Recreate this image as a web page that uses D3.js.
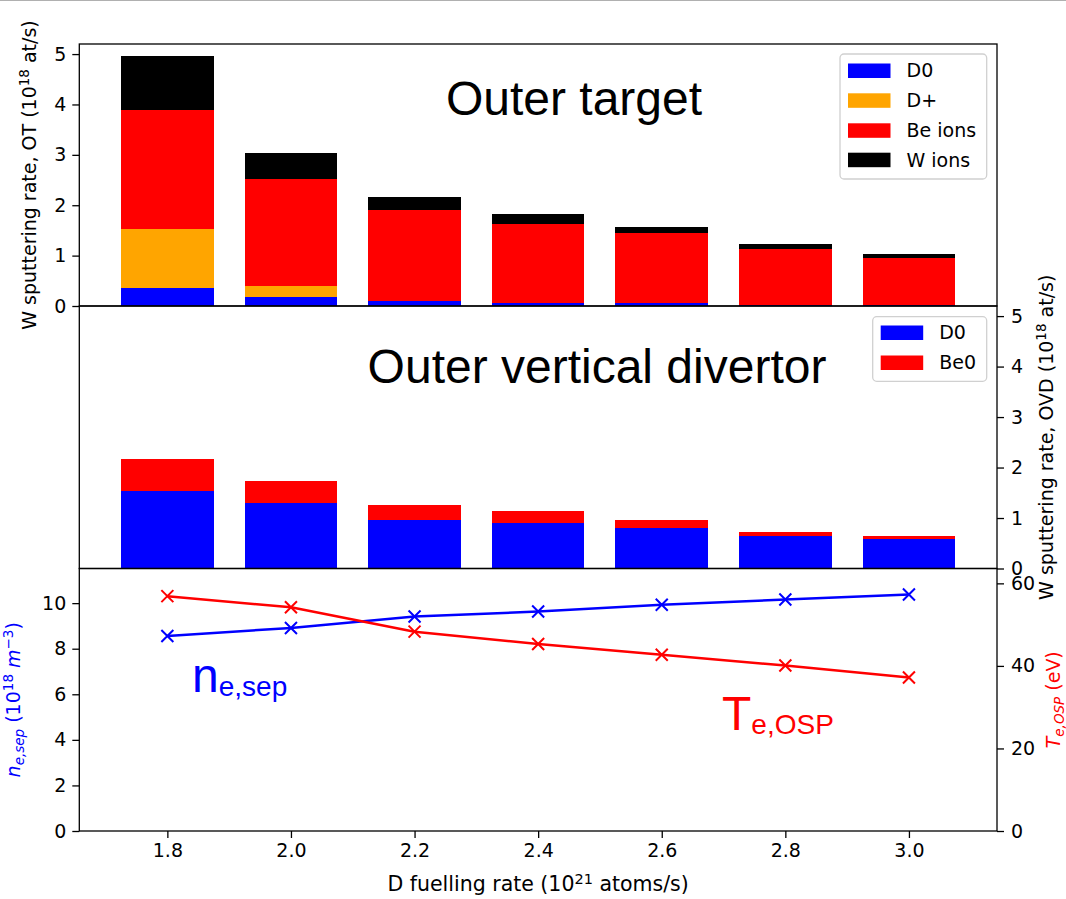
<!DOCTYPE html>
<html>
<head>
<meta charset="utf-8">
<script src="https://cdn.jsdelivr.net/npm/d3@7"></script>
<style>
  html, body { margin: 0; padding: 0; background: #fff; }
  svg { display: block; }
</style>
</head>
<body>
<svg id="chart" width="1066" height="899"></svg>
<script>
// ---------------- DATA ----------------
const fuel = [1.8, 2.0, 2.2, 2.4, 2.6, 2.8, 3.0];
// Outer target (OT) stacked components, 10^18 at/s
const otD0    = [0.36, 0.18, 0.10, 0.06, 0.05, 0.01, 0.01];
const otDplus = [1.17, 0.22, 0.00, 0.00, 0.00, 0.00, 0.00];
const otBeIons = [2.36, 2.12, 1.81, 1.57, 1.39, 1.12, 0.94];
const otWIons  = [1.07, 0.52, 0.26, 0.20, 0.13, 0.10, 0.08];
// Outer vertical divertor (OVD)
const ovdD0  = [1.53, 1.29, 0.96, 0.90, 0.80, 0.65, 0.58];
const ovdBe0 = [0.63, 0.44, 0.29, 0.23, 0.16, 0.07, 0.06];
// Plasma parameters
const neSep = [8.56, 8.91, 9.41, 9.63, 9.93, 10.16, 10.38];
const TeOSP = [56.9, 54.2, 48.3, 45.3, 42.7, 40.1, 37.2];
// ticks
const xTicks = [1.8, 2.0, 2.2, 2.4, 2.6, 2.8, 3.0];
const otTicks = [0, 1, 2, 3, 4, 5];
const ovdTicks = [0, 1, 2, 3, 4, 5];
const neTicks = [0, 2, 4, 6, 8, 10];
const teTicks = [0, 20, 40, 60];
const otLegend = ["D0", "D+", "Be ions", "W ions"];
const ovdLegend = ["D0", "Be0"];

// ---------------- LAYOUT ----------------
const L = 79.3, R = 997;
const topY0 = 44, topY1 = 306, midY1 = 568.5, botY1 = 831;
const barW = 0.15;
const cBlue = "#0000ff", cOrange = "#ffa500", cRed = "#ff0000", cBlack = "#000000";
const tickFont = "DejaVu Sans, sans-serif";
const bigFont = "Liberation Sans, Arial, sans-serif";

const svg = d3.select("#chart");
svg.append("rect").attr("width", 1066).attr("height", 899).attr("fill", "#fff");
svg.append("line").attr("x1", 0).attr("x2", 1066).attr("y1", 0.5).attr("y2", 0.5)
  .attr("stroke", "#b0b0b0").attr("stroke-width", 1);

const x = d3.scaleLinear().domain([1.6575, 3.1425]).range([L, R]);
const yTop = d3.scaleLinear().domain([0, 5.2]).range([topY1, topY0]);
const yMid = d3.scaleLinear().domain([0, 5.2]).range([midY1, topY1]);
const yNe = d3.scaleLinear().domain([0, 11.52]).range([botY1, midY1]);
const yTe = d3.scaleLinear().domain([0, 63.6]).range([botY1, midY1]);

// ---------- stacked bars helper ----------
function stackedBars(g, series, colors, yScale) {
  const keys = series.map((_, i) => "s" + i);
  const rows = fuel.map((f, j) => {
    const o = { f };
    series.forEach((s, i) => o["s" + i] = s[j]);
    return o;
  });
  const stacked = d3.stack().keys(keys)(rows);
  stacked.forEach((layer, i) => {
    g.append("g").attr("fill", colors[i])
      .selectAll("rect").data(layer.filter(d => d[1] - d[0] > 0)).join("rect")
      .attr("x", d => x(d.data.f - barW / 2))
      .attr("width", d => x(d.data.f + barW / 2) - x(d.data.f - barW / 2))
      .attr("y", d => yScale(d[1]))
      .attr("height", d => Math.max(0, yScale(d[0]) - yScale(d[1])))
      .attr("shape-rendering", "crispEdges");
  });
}

const gTop = svg.append("g");
stackedBars(gTop, [otD0, otDplus, otBeIons, otWIons], [cBlue, cOrange, cRed, cBlack], yTop);
const gMid = svg.append("g");
stackedBars(gMid, [ovdD0, ovdBe0], [cBlue, cRed], yMid);

// ---------- bottom lines ----------
const gBot = svg.append("g");
function lineSeries(vals, yScale, color) {
  const pts = fuel.map((f, i) => [x(f), yScale(vals[i])]);
  gBot.append("path").attr("d", d3.line()(pts))
    .attr("fill", "none").attr("stroke", color).attr("stroke-width", 2.5)
    .attr("stroke-linejoin", "round");
  const s = 6;
  gBot.append("g").selectAll("path").data(pts).join("path")
    .attr("d", p => `M${p[0]-s},${p[1]-s}L${p[0]+s},${p[1]+s}M${p[0]-s},${p[1]+s}L${p[0]+s},${p[1]-s}`)
    .attr("stroke", color).attr("stroke-width", 2).attr("fill", "none");
}
lineSeries(neSep, yNe, cBlue);
lineSeries(TeOSP, yTe, cRed);

// ---------- frames ----------
[[topY0, topY1], [topY1, midY1], [midY1, botY1]].forEach(([a, b]) => {
  svg.append("rect").attr("x", L).attr("y", a).attr("width", R - L).attr("height", b - a)
    .attr("fill", "none").attr("stroke", "#000").attr("stroke-width", 1.3);
});

// ---------- axes ----------
function styleAxis(g) {
  g.select(".domain").remove();
  g.selectAll(".tick line").attr("stroke", "#000").attr("stroke-width", 1.3);
  g.selectAll(".tick text").attr("font-family", tickFont).attr("font-size", 19).attr("fill", "#000");
}
svg.append("g").attr("transform", `translate(${L},0)`)
  .call(d3.axisLeft(yTop).tickValues(otTicks).tickFormat(d3.format("d")).tickSize(7).tickPadding(6))
  .call(styleAxis);
svg.append("g").attr("transform", `translate(${R},0)`)
  .call(d3.axisRight(yMid).tickValues(ovdTicks).tickFormat(d3.format("d")).tickSize(7).tickPadding(7))
  .call(styleAxis);
svg.append("g").attr("transform", `translate(${L},0)`)
  .call(d3.axisLeft(yNe).tickValues(neTicks).tickFormat(d3.format("d")).tickSize(7).tickPadding(6))
  .call(styleAxis);
svg.append("g").attr("transform", `translate(${R},0)`)
  .call(d3.axisRight(yTe).tickValues(teTicks).tickFormat(d3.format("d")).tickSize(7).tickPadding(7))
  .call(styleAxis);
svg.append("g").attr("transform", `translate(0,${botY1})`)
  .call(d3.axisBottom(x).tickValues(xTicks).tickFormat(d3.format(".1f")).tickSize(7).tickPadding(6))
  .call(styleAxis);

// ---------- axis labels ----------
function rotLabel(cx, cy, color, parts) {
  const t = svg.append("text").attr("transform", `translate(${cx},${cy}) rotate(-90)`)
    .attr("text-anchor", "middle").attr("font-family", tickFont).attr("font-size", 19)
    .attr("fill", color);
  parts.forEach(p => {
    const ts = t.append("tspan").text(p.t);
    if (p.dy) ts.attr("dy", p.dy);
    if (p.fs) ts.attr("font-size", p.fs);
    if (p.it) ts.attr("font-style", "italic");
  });
  return t;
}
rotLabel(36, (topY0 + topY1) / 2, "#000", [
  { t: "W sputtering rate, OT (10" }, { t: "18", dy: -7, fs: 13.5 }, { t: " at/s)", dy: 7 }
]);
rotLabel(1053, (topY1 + midY1) / 2, "#000", [
  { t: "W sputtering rate, OVD (10" }, { t: "18", dy: -7, fs: 13.5 }, { t: " at/s)", dy: 7 }
]);
rotLabel(20, (midY1 + botY1) / 2, cBlue, [
  { t: "n", it: true }, { t: "e,sep", dy: 4, fs: 13.5, it: true }, { t: " (10", dy: -4 },
  { t: "18", dy: -7, fs: 13.5 }, { t: " ", dy: 7 }, { t: "m", it: true },
  { t: "\u22123", dy: -7, fs: 13.5 }, { t: ")", dy: 7 }
]);
rotLabel(1060, (midY1 + botY1) / 2, cRed, [
  { t: "T", it: true }, { t: "e,OSP", dy: 4, fs: 13.5, it: true }, { t: " (eV)", dy: -4 }
]);

// x label
const xl = svg.append("text").attr("x", (L + R) / 2).attr("y", 891)
  .attr("text-anchor", "middle").attr("font-family", tickFont).attr("font-size", 20.5).attr("fill", "#000");
xl.append("tspan").text("D fuelling rate (10");
xl.append("tspan").attr("dy", -7.5).attr("font-size", 14.5).text("21");
xl.append("tspan").attr("dy", 7.5).text(" atoms/s)");

// ---------- big annotations ----------
svg.append("text").attr("x", 574).attr("y", 115).attr("text-anchor", "middle")
  .attr("font-family", bigFont).attr("font-size", 48).attr("fill", "#000").text("Outer target");
svg.append("text").attr("x", 597).attr("y", 383).attr("text-anchor", "middle")
  .attr("font-family", bigFont).attr("font-size", 48).attr("fill", "#000").text("Outer vertical divertor");

const ne = svg.append("text").attr("x", 192).attr("y", 692)
  .attr("font-family", bigFont).attr("font-size", 48).attr("fill", cBlue);
ne.append("tspan").text("n");
ne.append("tspan").attr("dy", 4).attr("font-size", 28).text("e,sep");

const te = svg.append("text").attr("x", 722).attr("y", 730)
  .attr("font-family", bigFont).attr("font-size", 48).attr("fill", cRed);
te.append("tspan").text("T");
te.append("tspan").attr("dy", 4).attr("font-size", 28).text("e,OSP");

// ---------- legends ----------
function legend(x0, y0, w, h, labels, colors, rowY) {
  const g = svg.append("g");
  g.append("rect").attr("x", x0).attr("y", y0).attr("width", w).attr("height", h)
    .attr("rx", 4).attr("fill", "#fff").attr("fill-opacity", 0.8)
    .attr("stroke", "#d0d0d0").attr("stroke-width", 1.3);
  labels.forEach((lab, i) => {
    g.append("rect").attr("x", x0 + 8).attr("y", rowY[i] - 7).attr("width", 42.5).attr("height", 14.5)
      .attr("fill", colors[i]);
    g.append("text").attr("x", x0 + 66.5).attr("y", rowY[i]).attr("dy", "0.36em")
      .attr("font-family", tickFont).attr("font-size", 19).attr("fill", "#000").text(lab);
  });
}
legend(840, 54, 146.7, 125, otLegend, [cBlue, cOrange, cRed, cBlack], [70.5, 100.3, 130.3, 159.7]);
legend(872.7, 316.7, 114, 64.6, ovdLegend, [cBlue, cRed], [332.5, 362.5]);
</script>
</body>
</html>
